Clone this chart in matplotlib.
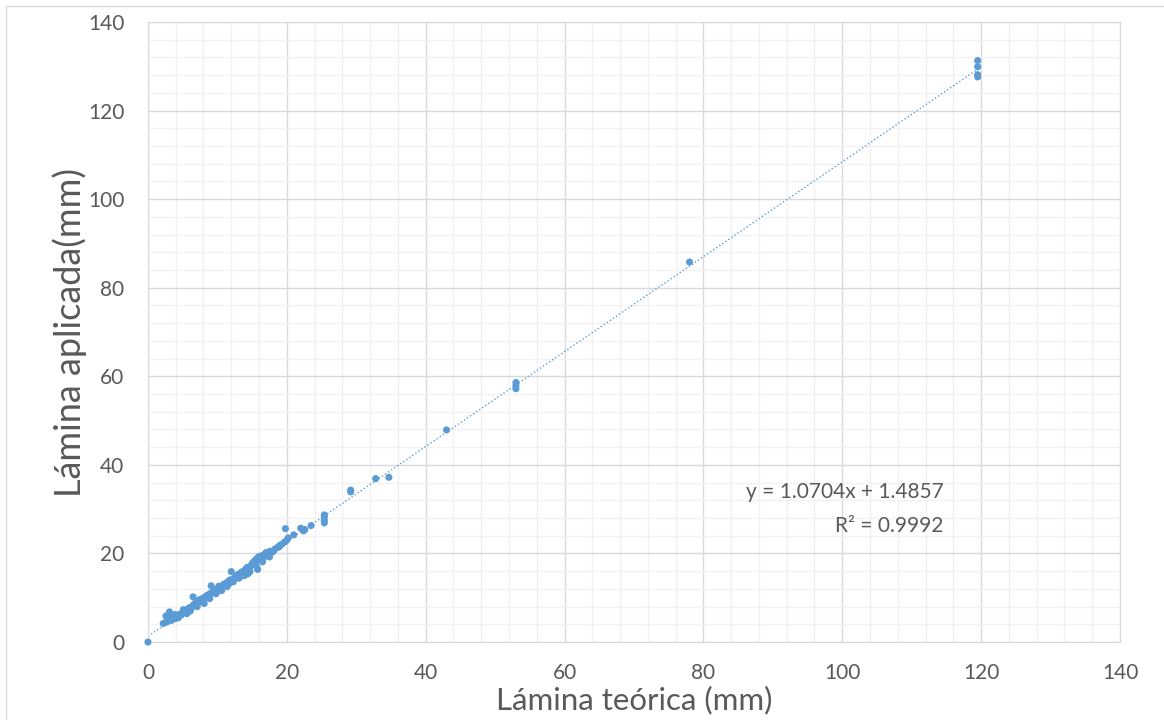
import numpy as np
import matplotlib.pyplot as plt
import matplotlib
from matplotlib.ticker import MultipleLocator
from matplotlib.lines import Line2D

matplotlib.rcParams['font.family'] = ['Lato', 'DejaVu Sans']

# lamina teorica (mm) vs lamina aplicada (mm)
teorica = [
    0.0, 2.2, 2.5, 2.6, 2.8, 3.0, 3.1, 3.3, 3.4, 3.6, 3.8, 4.0, 4.1, 4.3,
    4.5, 4.6, 4.8, 5.0, 5.2, 5.4, 5.5, 5.7, 5.9, 6.0, 6.2, 6.4, 6.5, 6.7,
    6.9, 7.0, 7.2, 7.4, 7.6, 7.8, 8.0, 8.2, 8.4, 8.6, 8.8, 9.0, 9.1, 9.3,
    9.5, 9.7, 9.9, 10.1, 10.3, 10.5, 10.7, 10.9, 11.1, 11.3, 11.5, 11.7,
    11.9, 12.0, 12.2, 12.4, 12.6, 12.8, 13.0, 13.2, 13.4, 13.6, 13.8, 14.0,
    14.2, 14.4, 14.6, 14.8, 15.0, 15.2, 15.4, 15.5, 15.7, 15.8, 16.0, 16.2,
    16.4, 16.6, 16.8, 17.0, 17.3, 17.6, 17.9, 18.3, 18.7, 19.0, 19.3, 19.7,
    19.8, 20.0, 20.2, 21.0, 22.0, 22.4, 22.6, 23.5, 25.4, 25.4, 25.4, 25.4,
    29.2, 29.2, 32.8, 34.7, 43.0, 53.0, 53.0, 53.0, 78.0, 119.5, 119.5,
    119.5, 119.5,
    # second batch of the dense cluster
    3.2, 3.9, 4.4, 5.1, 5.6, 6.1, 6.6, 7.1, 7.5, 8.1, 8.5, 8.9, 9.4, 9.8,
    10.2, 10.6, 11.0, 11.4, 11.8, 12.3, 12.7, 13.1, 13.5, 13.9, 14.3, 14.7,
    15.1, 15.6, 16.1, 16.5, 17.1, 17.5, 18.1, 18.9,
]
aplicada = [
    0.0, 4.2, 4.4, 5.9, 4.6, 5.0, 6.8, 5.2, 4.9, 5.4, 5.6, 5.3, 5.9, 5.7,
    6.0, 6.3, 6.1, 6.6, 6.9, 6.7, 7.2, 7.4, 7.1, 7.8, 7.6, 8.0, 10.2, 8.3,
    8.6, 9.2, 8.9, 9.4, 9.1, 9.7, 10.0, 9.8, 10.3, 10.6, 10.4, 11.0, 12.7,
    11.2, 11.5, 11.8, 11.4, 12.1, 12.4, 11.9, 12.6, 13.0, 12.8, 13.3, 13.6,
    13.2, 14.0, 15.9, 13.8, 14.3, 14.6, 14.9, 15.3, 14.7, 15.6, 15.1, 16.0,
    16.3, 16.7, 15.4, 16.9, 17.2, 17.6, 18.0, 18.4, 17.8, 18.9, 16.4, 19.3,
    18.8, 19.5, 19.0, 19.8, 20.2, 19.9, 20.5, 20.3, 21.0, 21.4, 21.8, 22.1,
    22.6, 25.6, 23.0, 23.5, 24.2, 25.7, 25.1, 25.4, 26.3, 26.9, 27.5, 28.2,
    28.7, 33.9, 34.3, 36.9, 37.2, 47.9, 57.2, 57.9, 58.6, 85.8, 127.6,
    128.1, 129.9, 131.3,
    5.8, 6.2, 5.5, 7.3, 6.4, 7.0, 8.5, 8.0, 9.6, 8.7, 10.5, 9.8, 11.3, 10.9,
    12.6, 11.6, 13.1, 12.5, 14.0, 13.6, 14.9, 14.4, 15.8, 15.0, 16.8, 15.9,
    17.9, 17.2, 18.6, 18.1, 19.6, 19.2, 20.6, 21.5,
]

x = np.array(teorica)
y = np.array(aplicada)
slope, intercept = np.polyfit(x, y, 1)

blue = '#5B9BD5'
fig = plt.figure(figsize=(11.64, 7.2), dpi=100)
ax = fig.add_axes([0.1271, 0.1083, 0.8351, 0.8611])

xs = np.array([x.min(), x.max()])
ax.plot(xs, slope * xs + intercept, linestyle=':', color=blue, linewidth=1.0, zorder=2)
ax.scatter(x, y, s=26, color=blue, edgecolors='none', zorder=3, clip_on=False)

ax.set_xlim(0, 140)
ax.set_ylim(0, 140)
ax.xaxis.set_major_locator(MultipleLocator(20))
ax.yaxis.set_major_locator(MultipleLocator(20))
ax.xaxis.set_minor_locator(MultipleLocator(4))
ax.yaxis.set_minor_locator(MultipleLocator(4))
ax.grid(which='major', color='#D9D9D9', linewidth=1.0)
ax.grid(which='minor', color='#F2F2F2', linewidth=1.0)
ax.set_axisbelow(True)
for sp in ax.spines.values():
    sp.set_color('#D9D9D9')
ax.tick_params(which='both', length=0)
ax.tick_params(axis='x', pad=15, labelsize=15, labelcolor='#595959')
ax.tick_params(axis='y', pad=17, labelsize=15, labelcolor='#595959')

ax.set_xlabel('Lámina teórica (mm)', fontsize=22.5, color='#595959', labelpad=2)
ax.set_ylabel('Lámina aplicada(mm)', fontsize=26, color='#595959', labelpad=1)

ax.text(114.6, 33.9, 'y = 1.0704x + 1.4857', ha='right', va='center',
        fontsize=15, color='#595959')
ax.text(114.6, 26.2, 'R² = 0.9992', ha='right', va='center',
        fontsize=15, color='#595959')

# outer chart border
fig.add_artist(Line2D([6 / 1164, 6 / 1164], [0, 1 - 6 / 720], color='#D9D9D9',
                      linewidth=1.0, transform=fig.transFigure))
fig.add_artist(Line2D([6 / 1164, 1], [1 - 6 / 720, 1 - 6 / 720], color='#D9D9D9',
                      linewidth=1.0, transform=fig.transFigure))

fig.savefig('out.png', dpi=100)
